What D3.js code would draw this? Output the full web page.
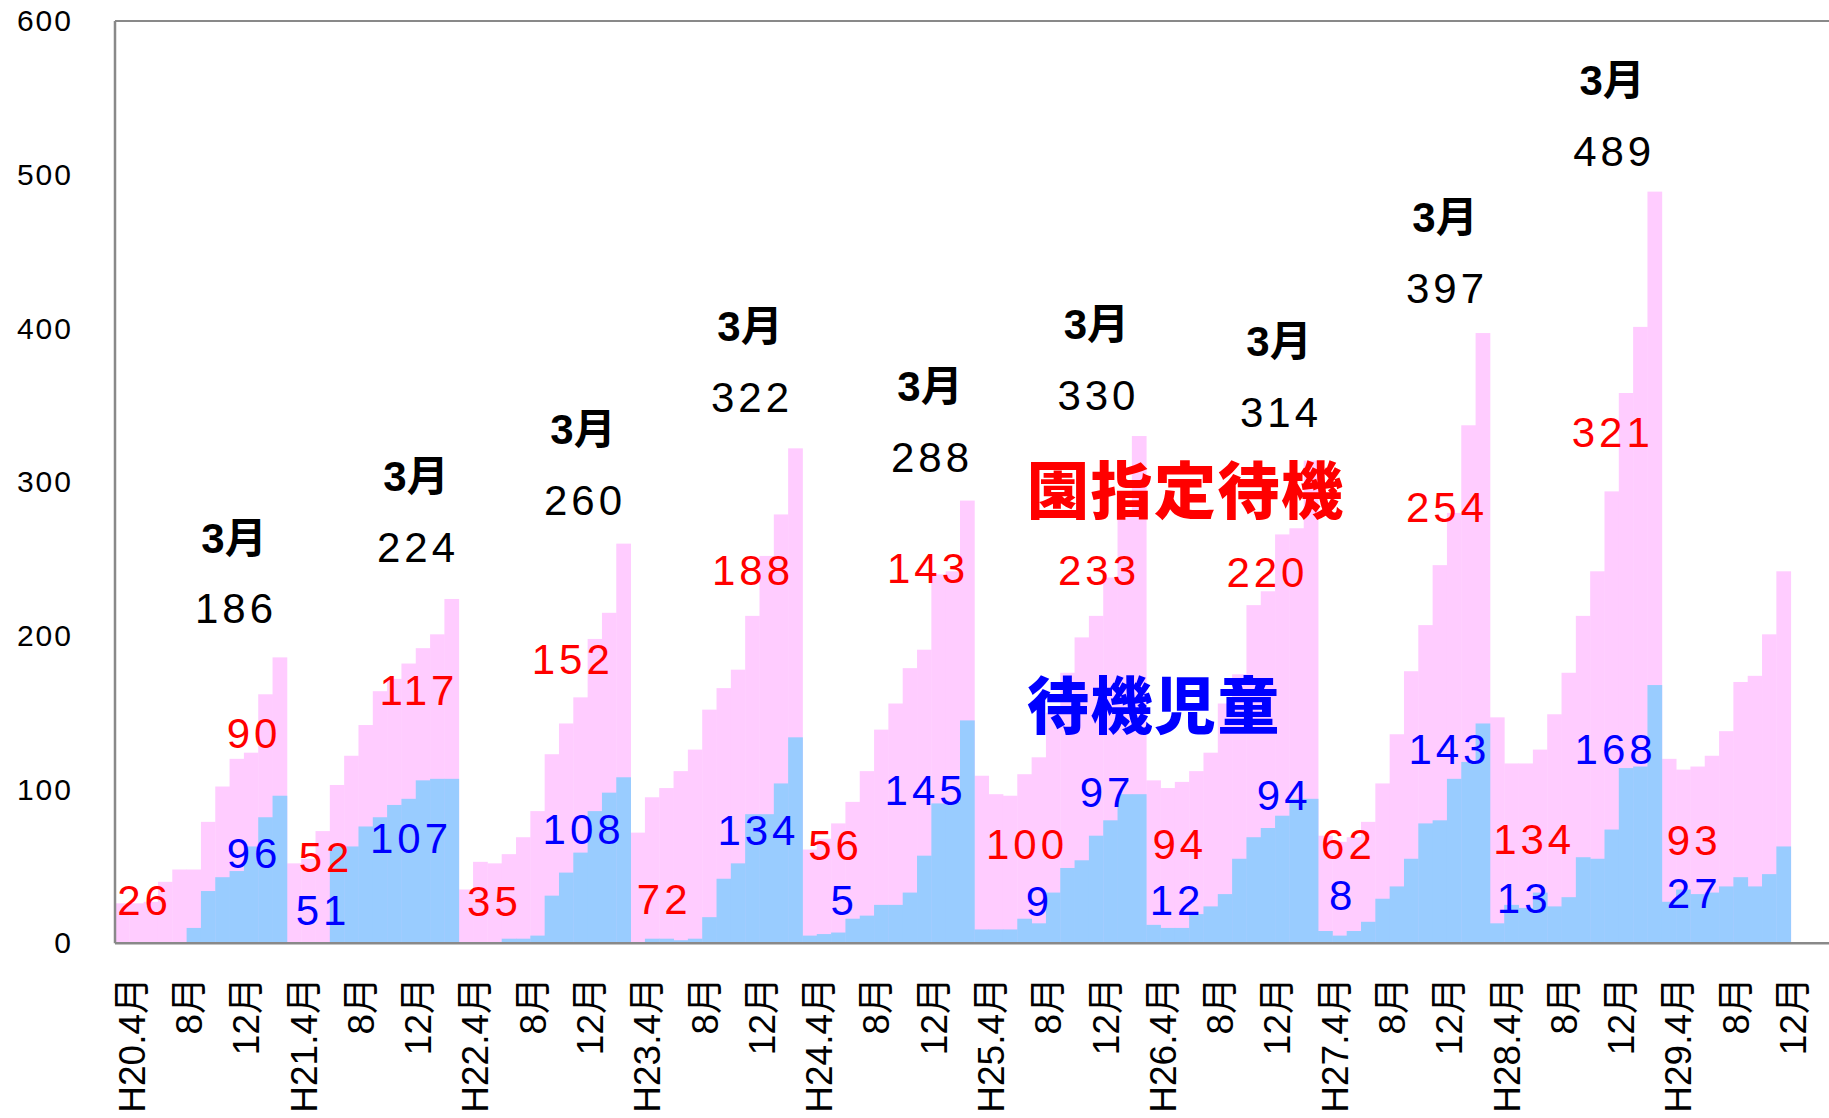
<!DOCTYPE html>
<html>
<head>
<meta charset="utf-8">
<script src="https://cdn.jsdelivr.net/npm/d3@7"></script>
<style>
  html, body { margin: 0; padding: 0; background: #fff; }
  svg { display: block; }
</style>
</head>
<body>
<svg id="chart" width="1829" height="1118"></svg>
<script>
// ---------------- data ----------------
const fiscalYears = ["H20","H21","H22","H23","H24","H25","H26","H27","H28","H29"];
const monthOrder = [4,5,6,7,8,9,10,11,12,1,2,3];

// total waiting (待機児童 + 園指定待機), monthly H20.4 - H29.12
const totalWaiting = [
  26, 26, 27, 40, 48, 48, 79, 102, 120, 124, 162, 186,
  52, 55, 73, 103, 122, 142, 164, 172, 182, 192, 201, 224,
  35, 53, 52, 58, 69, 86, 123, 143, 160, 198, 215, 260,
  72, 95, 101, 112, 126, 152, 166, 178, 213, 252, 279, 322,
  61, 68, 78, 92, 112, 139, 156, 179, 191, 240, 242, 288,
  109, 97, 96, 110, 121, 150, 176, 199, 213, 238, 280, 330,
  106, 101, 105, 112, 124, 156, 175, 220, 229, 266, 270, 314,
  70, 66, 69, 79, 104, 136, 177, 207, 246, 280, 337, 397,
  147, 117, 117, 126, 149, 176, 213, 242, 294, 358, 401, 489,
  120, 113, 115, 122, 138, 170, 174, 201, 242
];
// 待機児童
const taikiJido = [
  0, 0, 0, 0, 0, 10, 34, 43, 47, 63, 82, 96,
  0, 0, 0, 63, 63, 76, 82, 90, 94, 106, 107, 107,
  0, 0, 0, 3, 3, 5, 31, 46, 59, 86, 98, 108,
  0, 3, 3, 2, 3, 17, 42, 52, 84, 84, 104, 134,
  5, 6, 7, 16, 18, 25, 25, 33, 57, 91, 92, 145,
  9, 9, 9, 16, 13, 33, 49, 54, 70, 80, 97, 97,
  12, 10, 10, 19, 24, 32, 55, 69, 75, 83, 94, 94,
  8, 5, 8, 14, 29, 37, 55, 78, 80, 107, 118, 143,
  13, 25, 23, 33, 24, 30, 56, 55, 74, 114, 115, 168,
  27, 35, 32, 33, 37, 43, 37, 45, 63
];

// value labels as printed
const marchTotal   = [186, 224, 260, 322, 288, 330, 314, 397, 489];
const marchShitei  = [90, 117, 152, 188, 143, 233, 220, 254, 321];
const marchTaiki   = [96, 107, 108, 134, 145, 97, 94, 143, 168];
const aprilShitei  = [26, 52, 35, 72, 56, 100, 94, 62, 134, 93];
const aprilTaiki   = [null, 51, null, null, 5, 9, 12, 8, 13, 27];

const yTicks = [0, 100, 200, 300, 400, 500, 600];

// ---------------- annotation layout (in slot / value units) ----------------
const marchTotalPos  = [[8.33,218],[21.07,258],[32.76,288.5],[44.45,355.7],[57.05,316.4],[68.7,357],[81.48,346],[93.1,426.4],[104.8,515.8]];
const marchShiteiPos = [[9.59,137],[21.14,165],[31.9,185],[44.52,243],[56.77,244],[68.74,243],[80.53,241.6],[93.1,284],[104.7,333]];
const marchTaikiPos  = [[9.59,59],[20.58,68.6],[32.66,74.5],[44.9,73.8],[56.6,99.8],[69.3,98.6],[81.7,96.8],[93.27,126.7],[104.9,126.4]];
const aprilShiteiPos = [[1.93,28],[14.63,56],[26.42,27.6],[38.3,28.8],[50.3,64],[63.7,65],[74.4,64.9],[86.2,64.9],[99.2,67.8],[110.4,67]];
const aprilTaikiPos  = [null,[14.42,21.7],null,null,[50.9,28],[64.57,27.5],[74.2,28.5],[85.8,31.7],[98.5,29.8],[110.4,33]];
const seriesLabelPos = { shitei: [74.9, 293.6], taiki: [72.67, 153.8] };

// ---------------- build ----------------
(function () {
const categories = fiscalYears.flatMap(fy => monthOrder.map(m => fy + "." + m));
const data = totalWaiting.map((t, i) => ({ cat: categories[i], total: t, taiki: taikiJido[i] }));

const svg = d3.select("#chart");
svg.append("rect").attr("width", 1829).attr("height", 1118).attr("fill", "#fff");

const plotLeft = 115, plotTop = 21, plotBottom = 943.3, slot = 14.322;
const x = d3.scaleBand().domain(categories).range([plotLeft, plotLeft + categories.length * slot]).padding(0);
// annotation placement scale (slot units as measured)
const xs = d3.scaleLinear().domain([0, categories.length]).range([plotLeft, plotLeft + categories.length * 14.286]);
const y = d3.scaleLinear().domain([0, 600]).range([plotBottom, plotTop]);

const numFont = "'Liberation Sans', Arial, 'Noto Sans CJK JP', sans-serif";
const cjkFont = "'Noto Sans CJK JP', 'Noto Sans CJK SC', sans-serif";

// bars
svg.append("g").selectAll("rect").data(data).join("rect")
  .attr("x", d => x(d.cat)).attr("width", x.bandwidth() + 0.4)
  .attr("y", d => y(d.total)).attr("height", d => y(0) - y(d.total))
  .attr("fill", "#FFCCFF");
svg.append("g").selectAll("rect").data(data.filter(d => d.taiki > 0)).join("rect")
  .attr("x", d => x(d.cat)).attr("width", x.bandwidth() + 0.4)
  .attr("y", d => y(d.taiki)).attr("height", d => y(0) - y(d.taiki))
  .attr("fill", "#99CCFF");

// frame
const axisColor = "#898989";
svg.append("line").attr("x1", plotLeft).attr("x2", 1840).attr("y1", y(600)).attr("y2", y(600))
  .attr("stroke", axisColor).attr("stroke-width", 2);
svg.append("line").attr("x1", plotLeft).attr("x2", 1840).attr("y1", y(0)).attr("y2", y(0))
  .attr("stroke", axisColor).attr("stroke-width", 2.5);
svg.append("line").attr("x1", plotLeft).attr("x2", plotLeft).attr("y1", y(600)).attr("y2", y(0))
  .attr("stroke", axisColor).attr("stroke-width", 2.5);

// y axis labels
const yAxis = svg.append("g").attr("transform", `translate(${plotLeft},0)`)
  .call(d3.axisLeft(y).tickValues(yTicks).tickSize(0).tickPadding(44));
yAxis.select(".domain").remove();
yAxis.selectAll("text").attr("font-family", numFont).attr("font-size", 30)
  .attr("fill", "#000").attr("letter-spacing", 2).attr("dx", 2);

// x tick labels (every 4 months)
const xTickLabels = data.map((d, i) => {
  if (i % 4 !== 0) return null;
  const [fy, m] = d.cat.split(".");
  return m === "4" ? fy + ".4月" : m + "月";
});
svg.append("g").selectAll("text").data(data.map((d, i) => ({ d, i, t: xTickLabels[i] })).filter(o => o.t))
  .join("text")
  .attr("transform", o => `translate(${x(o.d.cat) + x.bandwidth() / 2 + 22.5},977) rotate(-90)`)
  .attr("text-anchor", "end")
  .attr("font-family", numFont).attr("font-size", 37).attr("fill", "#000")
  .text(o => o.t);

// value labels
function label(pos, text, color, opts = {}) {
  const ls = opts.ls !== undefined ? opts.ls : 4;
  return svg.append("text")
    .attr("x", xs(pos[0]) + ls / 2).attr("y", y(pos[1]))
    .attr("dy", opts.dy || "0.36em")
    .attr("text-anchor", "middle")
    .attr("font-family", opts.family || numFont)
    .attr("font-size", opts.size || 42)
    .attr("font-weight", opts.weight || "normal")
    .attr("letter-spacing", ls)
    .attr("fill", color)
    .text(text);
}
marchTotal.forEach((v, k) => {
  label(marchTotalPos[k], v, "#000");
  svg.append("text")
    .attr("x", xs(marchTotalPos[k][0])).attr("y", y(marchTotalPos[k][1]) - 71)
    .attr("dy", "0.37em").attr("text-anchor", "middle")
    .attr("font-family", numFont).attr("font-size", 42).attr("font-weight", "bold")
    .attr("fill", "#000").text("3月");
  label(marchShiteiPos[k], marchShitei[k], "#FF0000");
  label(marchTaikiPos[k], marchTaiki[k], "#0000FF");
});
aprilShitei.forEach((v, k) => label(aprilShiteiPos[k], v, "#FF0000"));
aprilTaiki.forEach((v, k) => { if (v !== null) label(aprilTaikiPos[k], v, "#0000FF"); });

// series labels
label(seriesLabelPos.shitei, "園指定待機", "#FF0000", { family: cjkFont, size: 62, weight: 900, ls: 1.5, dy: "0.36em" });
label(seriesLabelPos.taiki, "待機児童", "#0000FF", { family: cjkFont, size: 62, weight: 900, ls: 1.5, dy: "0.36em" });
})();
</script>
</body>
</html>
